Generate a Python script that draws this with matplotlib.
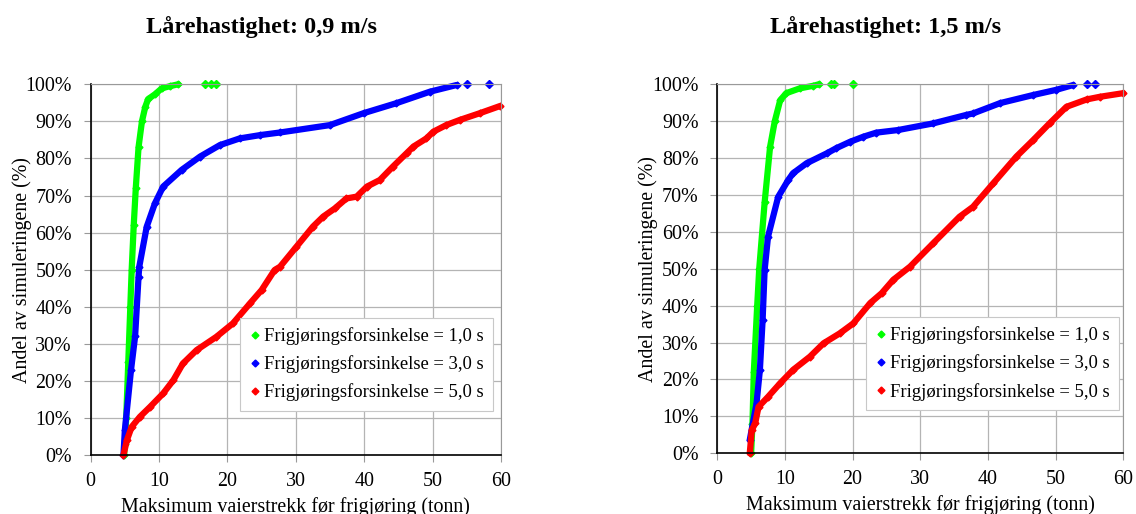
import matplotlib
matplotlib.use("Agg")
import matplotlib.pyplot as plt
from matplotlib.lines import Line2D
from matplotlib.ticker import PercentFormatter

plt.rcParams['font.family'] = ['Liberation Serif', 'DejaVu Serif']

"""
Data read off the reference (x = tonn, y = % of simulations)
"""
titles = ['Lårehastighet: 0,9 m/s', 'Lårehastighet: 1,5 m/s']
labels = ['Frigjøringsforsinkelse = 1,0 s',
          'Frigjøringsforsinkelse = 3,0 s',
          'Frigjøringsforsinkelse = 5,0 s']
colors = ['#00ff00', '#0000ff', '#ff0000']

# 0,9 m/s
g09_x = [4.9, 5.0, 5.2, 5.5, 5.8, 6.0, 6.3, 6.6, 7.0, 7.5, 8.0, 8.4, 9.4, 10.4, 11.6, 12.8]
g09_y = [0, 3, 10, 25, 40, 50, 62, 72, 83, 90, 94, 96, 97.3, 98.9, 99.5, 100]
g09_tail_x = [16.7, 17.6, 18.4]
g09_tail_y = [100, 100, 100]

b09_x = [4.8, 5.0, 5.9, 6.5, 7.0, 7.1, 8.2, 9.4, 10.6, 13.3, 16.0, 18.9, 21.8, 24.8, 27.7,
         35.0, 39.9, 44.7, 49.6, 53.5]
b09_y = [0, 6.7, 22.9, 32, 48, 50.7, 61.6, 67.9, 72.4, 76.9, 80.5, 83.6, 85.4, 86.3, 87.0,
         89.0, 92.2, 94.9, 98.0, 99.8]
b09_tail_x = [55.0, 58.3]
b09_tail_y = [100, 100]

r09_x = [4.8, 5.3, 6.0, 7.2, 8.7, 10.6, 12.1, 13.5, 15.5, 18.4, 20.8, 23.3, 25.0, 26.9, 27.7,
         30.1, 32.5, 34.0, 35.7, 37.4, 38.9, 40.4, 42.3, 44.2, 46.2, 47.2, 49.1, 50.1, 52.0,
         54.0, 56.9, 59.8]
r09_y = [0, 4, 7.6, 10.3, 13.0, 16.6, 20.2, 24.7, 28.3, 31.9, 35.5, 40.9, 44.5, 49.9, 50.8,
         56.2, 61.6, 64.3, 66.5, 69.2, 69.7, 72.4, 74.2, 77.8, 81.4, 83.2, 85.4, 87.2, 89.0,
         90.4, 92.2, 94.1]

# 1,5 m/s
g15_x = [5.0, 5.2, 5.4, 5.9, 6.2, 7.0, 7.8, 8.5, 9.3, 10.2, 12.2, 14.2, 15.0]
g15_y = [0, 8, 22, 40, 50, 68, 83, 90, 95.7, 97.6, 98.9, 99.6, 100]
g15_tail_x = [16.8, 17.3, 20.0]
g15_tail_y = [100, 100, 100]

b15_x = [4.8, 5.8, 6.3, 6.7, 7.0, 7.5, 9.0, 10.5, 11.2, 13.2, 16.2, 17.6, 19.6, 21.6, 23.5,
         26.7, 31.9, 36.8, 37.8, 41.8, 46.7, 50.1, 52.6]
b15_y = [3.6, 13.5, 22.6, 36.1, 49.7, 58.7, 69.5, 74.1, 75.9, 78.6, 81.3, 82.7, 84.4, 85.8, 86.9,
         87.6, 89.4, 91.7, 92.1, 94.9, 97.1, 98.5, 99.8]
b15_tail_x = [54.6, 55.8]
b15_tail_y = [100, 100]

r15_x = [4.8, 5.1, 5.6, 6.1, 7.5, 9.3, 11.2, 13.7, 15.7, 18.1, 20.1, 22.6, 24.3, 26.0, 28.5,
         31.9, 35.8, 37.8, 40.8, 44.2, 46.7, 49.1, 51.6, 54.6, 56.5, 60.0]
r15_y = [0, 6.3, 8.1, 12.6, 15.3, 19.0, 22.6, 26.2, 29.8, 32.5, 35.2, 40.7, 43.4, 47.0, 50.6,
         56.9, 64.1, 66.8, 73.2, 80.4, 84.9, 89.4, 93.9, 95.9, 96.6, 97.6]

panels = [
    [(g09_x, g09_y, g09_tail_x, g09_tail_y),
     (b09_x, b09_y, b09_tail_x, b09_tail_y),
     (r09_x, r09_y, [], [])],
    [(g15_x, g15_y, g15_tail_x, g15_tail_y),
     (b15_x, b15_y, b15_tail_x, b15_tail_y),
     (r15_x, r15_y, [], [])],
]

fig = plt.figure(figsize=(11.36, 5.14), dpi=100)
ax_rects = [[0.0798, 0.1148, 0.3612, 0.7212], [0.6314, 0.1181, 0.3574, 0.7179]]
title_x = [0.2302, 0.7795]
legend_anchor = [(0.981, 0.370), (0.989, 0.369)]

for k in range(2):
    ax = fig.add_axes(ax_rects[k])
    for (x, y, tx, ty), col in zip(panels[k], colors):
        ax.plot(x, y, color=col, lw=4.5, marker='D', ms=3.5, mec=col, mfc=col,
                solid_capstyle='round', solid_joinstyle='round', clip_on=False)
        if tx:
            ax.plot(tx, ty, ls='none', color=col, marker='D', ms=4, clip_on=False)

    ax.set_xlim(0, 60)
    ax.set_ylim(0, 100)
    ax.set_xticks(range(0, 61, 10))
    ax.set_yticks(range(0, 101, 10))
    ax.yaxis.set_major_formatter(PercentFormatter(decimals=0))
    ax.grid(True, color='#b4b4b4', lw=0.9)
    ax.set_axisbelow(True)
    for s in ['top', 'right']:
        ax.spines[s].set_color('#999999')
    for s in ['left', 'bottom']:
        ax.spines[s].set_color('black')
        ax.spines[s].set_linewidth(1.2)
    ax.tick_params(axis='both', labelsize=14.4, length=5, color='#999999')
    ax.tick_params(axis='x', pad=7)
    ax.tick_params(axis='y', pad=8.5)
    ax.set_xlabel('Maksimum vaierstrekk før frigjøring (tonn)', fontsize=14.4)
    ax.set_ylabel('Andel av simuleringene (%)', fontsize=14.4)
    w_px = ax_rects[k][2] * 1136
    h_px = ax_rects[k][3] * 514
    ax.yaxis.set_label_coords(-59 / w_px, 0.5)
    ax.xaxis.set_label_coords(0.5, -42 / h_px)

    handles = [Line2D([], [], ls='none', marker='D', ms=3.5, color=c) for c in colors]
    leg = ax.legend(handles, labels, loc='upper right', bbox_to_anchor=legend_anchor[k],
                    borderaxespad=0, fontsize=13.4, fancybox=False, framealpha=1,
                    edgecolor='#c8c8c8', handlelength=0.6, handletextpad=0.2,
                    labelspacing=0.55, borderpad=0.5)
    leg.get_frame().set_linewidth(0.8)

    fig.text(title_x[k], 1 - 33 / 514, titles[k], ha='center', va='baseline',
             fontsize=17.5, fontweight='bold')

fig.savefig('out.png', dpi=100)
